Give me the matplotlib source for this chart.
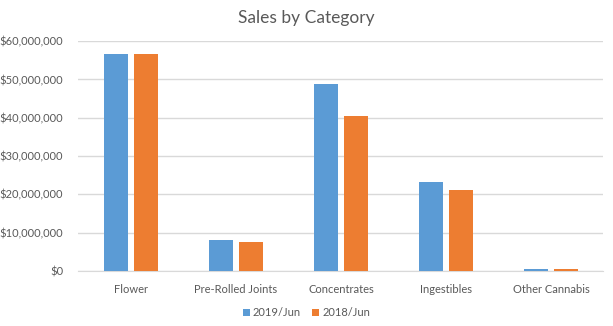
import matplotlib.pyplot as plt
import numpy as np
from matplotlib.ticker import FuncFormatter

categories = ['Flower', 'Pre-Rolled Joints', 'Concentrates', 'Ingestibles', 'Other Cannabis']
sales_2019 = [56.6e6, 8.2e6, 48.9e6, 23.3e6, 0.6e6]
sales_2018 = [56.6e6, 7.5e6, 40.5e6, 21.2e6, 0.6e6]
series_names = ['2019/Jun', '2018/Jun']

plt.rcParams['font.family'] = ['Lato', 'DejaVu Sans']
texte = '#595959'
grille = '#d9d9d9'

fig = plt.figure(figsize=(6.13, 3.26), dpi=100)
ax = fig.add_axes([0.128, 0.1687, 0.8565, 0.7053])

x = np.arange(len(categories))
largeur = 0.229
decalage = 0.143
ax.bar(x - decalage, sales_2019, largeur, color='#5B9BD5', label=series_names[0], zorder=3)
ax.bar(x + decalage, sales_2018, largeur, color='#ED7D31', label=series_names[1], zorder=3)

ax.set_xlim(-0.5, len(categories) - 0.5)
ax.set_ylim(0, 60e6)
ax.set_yticks(np.arange(0, 60e6 + 1, 10e6))
ax.yaxis.set_major_formatter(FuncFormatter(lambda v, p: f'${v:,.0f}'))
ax.set_xticks(x)
ax.set_xticklabels(categories)

ax.grid(axis='y', color=grille, linewidth=1, zorder=0)
for s in ['top', 'right', 'left']:
    ax.spines[s].set_visible(False)
ax.spines['bottom'].set_color(grille)
ax.tick_params(axis='both', length=0, colors=texte, labelsize=8)
ax.tick_params(axis='x', pad=9)
ax.tick_params(axis='y', pad=11)

fig.text(0.5, 0.945, 'Sales by Category', ha='center', va='center', fontsize=12.5, color=texte)

leg = fig.legend(loc='center', bbox_to_anchor=(0.5, 0.04), ncol=2, frameon=False,
                 fontsize=8, handlelength=0.6, handleheight=0.6, handletextpad=0.3,
                 columnspacing=1.0)
for t in leg.get_texts():
    t.set_color(texte)

fig.savefig('out.png', dpi=100)
